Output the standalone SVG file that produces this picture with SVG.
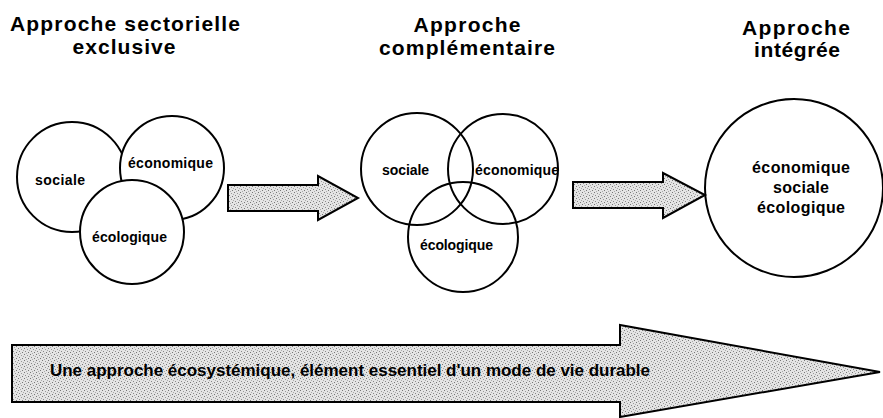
<svg xmlns="http://www.w3.org/2000/svg" width="883" height="418" viewBox="0 0 883 418">
<style>
.t{font-family:"Liberation Sans",Arial,sans-serif;font-weight:bold;fill:#000}
.title{font-size:21px;text-anchor:middle}
.lbl{font-size:14px}
.big{font-size:16px;text-anchor:middle}
.c{fill:#fff;stroke:#000;stroke-width:2}
.arr{fill:url(#dots);stroke:#000;stroke-width:2;stroke-linejoin:miter}
</style>
<defs>
<pattern id="dots" width="6" height="6" patternUnits="userSpaceOnUse">
<rect width="6" height="6" fill="#e4e4e4"/>
<rect x="0" y="0" width="1" height="1" fill="#777"/>
<rect x="3" y="1" width="1" height="1" fill="#999"/>
<rect x="1" y="3" width="1" height="1" fill="#888"/>
<rect x="4" y="4" width="1" height="1" fill="#777"/>
<rect x="5" y="2" width="1" height="1" fill="#aaa"/>
<rect x="2" y="5" width="1" height="1" fill="#aaa"/>
</pattern>
</defs>
<g id="titles">
<text class="t title" x="125" y="31" textLength="230" lengthAdjust="spacing">Approche sectorielle</text>
<text class="t title" x="124" y="54" textLength="103" lengthAdjust="spacing">exclusive</text>
<text class="t title" x="467" y="32" textLength="107" lengthAdjust="spacing">Approche</text>
<text class="t title" x="467" y="55" textLength="176" lengthAdjust="spacing">complémentaire</text>
<text class="t title" x="796" y="35" textLength="108" lengthAdjust="spacing">Approche</text>
<text class="t title" x="797" y="57" textLength="86" lengthAdjust="spacing">intégrée</text>
</g>
<g id="group-exclusive">
<circle class="c" cx="72" cy="177" r="55"/>
<circle class="c" cx="172" cy="168" r="52"/>
<circle class="c" cx="132" cy="232" r="52"/>
<text class="t lbl" x="35" y="185" textLength="50" lengthAdjust="spacing">sociale</text>
<text class="t lbl" x="128" y="168" textLength="85" lengthAdjust="spacing">économique</text>
<text class="t lbl" x="92" y="242" textLength="75" lengthAdjust="spacing">écologique</text>
</g>
<g id="group-complementaire" fill="none" stroke="#000" stroke-width="2">
<circle cx="417" cy="169" r="56"/>
<circle cx="503" cy="169" r="55"/>
<circle cx="463" cy="237" r="55"/>
</g>
<g id="labels-complementaire">
<text class="t lbl" x="382" y="175" textLength="47" lengthAdjust="spacing">sociale</text>
<text class="t lbl" x="475" y="175" textLength="84" lengthAdjust="spacing">économique</text>
<text class="t lbl" x="420" y="250" textLength="73" lengthAdjust="spacing">écologique</text>
</g>
<g id="group-integree">
<circle class="c" cx="794" cy="188" r="89"/>
<text class="t big" x="801" y="173" textLength="98" lengthAdjust="spacing">économique</text>
<text class="t big" x="801" y="193" textLength="56" lengthAdjust="spacing">sociale</text>
<text class="t big" x="801" y="213" textLength="88" lengthAdjust="spacing">écologique</text>
</g>
<g id="connectors">
<path class="arr" d="M228 185 H318 V176 L358 198 L318 220 V211 H228 Z"/>
<path class="arr" d="M573 182 H663 V173 L705 195 L663 218 V208 H573 Z"/>
<path class="arr" d="M12 345 H620 V325 L880 372 L620 417 V402 H12 Z"/>
</g>
<text class="t" x="50" y="376" font-size="17" textLength="600" lengthAdjust="spacing">Une approche écosystémique, élément essentiel d'un mode de vie durable</text>
</svg>
